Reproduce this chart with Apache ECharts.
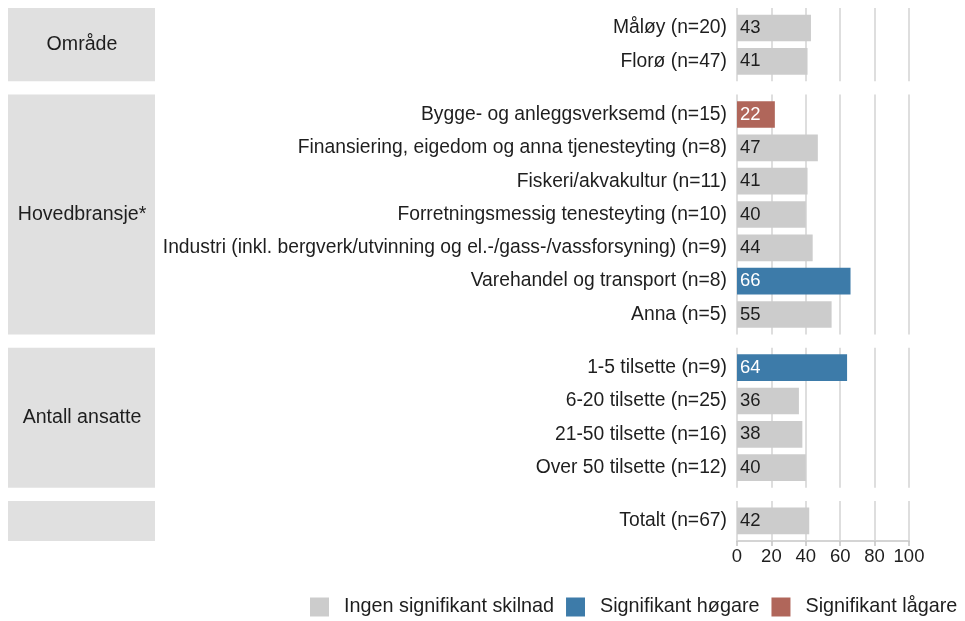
<!DOCTYPE html>
<html>
<head>
<meta charset="utf-8">
<script src="https://cdn.jsdelivr.net/npm/echarts@6/dist/echarts.min.js"></script>
<style>
  html, body { margin: 0; padding: 0; background: #fff; }
  #main { width: 965px; height: 621px; }
</style>
</head>
<body>
<div id="main"></div>
<script>
// data
const facetNames = ['Område', 'Hovedbransje*', 'Antall ansatte', ''];

const omradeLabels = ['Måløy (n=20)', 'Florø (n=47)'];
const omradeValues = [43, 41];
const omradeSig = [0, 0];

const bransjeLabels = [
  'Bygge- og anleggsverksemd (n=15)',
  'Finansiering, eigedom og anna tjenesteyting (n=8)',
  'Fiskeri/akvakultur (n=11)',
  'Forretningsmessig tenesteyting (n=10)',
  'Industri (inkl. bergverk/utvinning og el.-/gass-/vassforsyning) (n=9)',
  'Varehandel og transport (n=8)',
  'Anna (n=5)'
];
const bransjeValues = [22, 47, 41, 40, 44, 66, 55];
const bransjeSig = [2, 0, 0, 0, 0, 1, 0];

const ansatteLabels = ['1-5 tilsette (n=9)', '6-20 tilsette (n=25)', '21-50 tilsette (n=16)', 'Over 50 tilsette (n=12)'];
const ansatteValues = [64, 36, 38, 40];
const ansatteSig = [1, 0, 0, 0];

const totaltLabels = ['Totalt (n=67)'];
const totaltValues = [42];
const totaltSig = [0];

const sigNames = ['Ingen signifikant skilnad', 'Signifikant høgare', 'Signifikant lågare'];
const sigColors = ['#cccccc', '#3d7ba9', '#b0665a'];
const xTicks = [0, 20, 40, 60, 80, 100];

const groups = [
  [omradeLabels, omradeValues, omradeSig],
  [bransjeLabels, bransjeValues, bransjeSig],
  [ansatteLabels, ansatteValues, ansatteSig],
  [totaltLabels, totaltValues, totaltSig]
];

// layout
const font = '"Liberation Sans", Arial, sans-serif';
const plotLeft = 737, plotWidth = 172;
const unit = 33.33;          // height of one row
const pad = 0.1 * unit;      // ggplot-like expansion beyond the bands
const panelGap = 13.2;

const grid = [], xAxis = [], yAxis = [], series = [], graphic = [];
let panelTop = 8;
groups.forEach((g, k) => {
  const n = g[0].length;
  const h = (n + 0.2) * unit;
  const isLast = k === groups.length - 1;
  // background grid: vertical grid lines over the whole panel
  grid.push({ left: plotLeft, width: plotWidth, top: panelTop, height: h });
  xAxis.push({
    gridIndex: 2 * k, type: 'value', min: xTicks[0], max: xTicks[xTicks.length - 1], interval: 20,
    axisLine: { show: isLast, lineStyle: { color: '#d4d4d4', width: 2 } },
    axisTick: { show: isLast, length: 5, lineStyle: { color: '#c4c4c4', width: 1.5 } },
    axisLabel: { show: isLast, fontSize: 18.5, color: '#1e1e1e', fontFamily: font, margin: 7 },
    splitLine: { show: true, lineStyle: { color: '#dedede', width: 2 } }
  });
  yAxis.push({ gridIndex: 2 * k, type: 'value', show: false });
  // data grid
  grid.push({ left: plotLeft, width: plotWidth, top: panelTop + pad, height: n * unit });
  xAxis.push({ gridIndex: 2 * k + 1, type: 'value', min: 0, max: 100, show: false, splitLine: { show: false } });
  yAxis.push({
    gridIndex: 2 * k + 1, type: 'category', inverse: true, data: g[0],
    axisLine: { show: false }, axisTick: { show: false },
    axisLabel: { fontSize: 19.3, color: '#1e1e1e', fontFamily: font, margin: 10 }
  });
  sigNames.forEach((name, s) => {
    series.push({
      name: name, type: 'bar', xAxisIndex: 2 * k + 1, yAxisIndex: 2 * k + 1,
      stack: 'p' + k, barWidth: '80%',
      itemStyle: { color: sigColors[s] },
      label: {
        show: true, position: 'insideLeft', distance: 3, fontSize: 18.5, fontFamily: font,
        color: s === 0 ? '#1e1e1e' : '#ffffff'
      },
      data: g[1].map((v, i) => (g[2][i] === s ? v : '-'))
    });
  });
  // facet strip
  graphic.push({
    type: 'rect', left: 8, top: panelTop,
    shape: { width: 147, height: h },
    style: { fill: '#e0e0e0' }, silent: true
  });
  if (facetNames[k]) {
    graphic.push({
      type: 'text', x: 82, y: panelTop + h / 2,
      style: { text: facetNames[k], font: '19.6px ' + font, fill: '#1e1e1e', align: 'center', verticalAlign: 'middle' }
    });
  }
  panelTop += h + panelGap;
});

const chart = echarts.init(document.getElementById('main'), null, { renderer: 'canvas' });
chart.setOption({
  animation: false,
  backgroundColor: '#ffffff',
  grid: grid,
  xAxis: xAxis,
  yAxis: yAxis,
  series: series,
  graphic: graphic,
  legend: {
    data: sigNames,
    top: 592, left: 305,
    itemWidth: 19, itemHeight: 19, itemGap: 12,
    icon: 'rect',
    textStyle: { fontSize: 19.8, color: '#1e1e1e', fontFamily: font, padding: [0, 0, 0, 10] }
  }
});
</script>
</body>
</html>
